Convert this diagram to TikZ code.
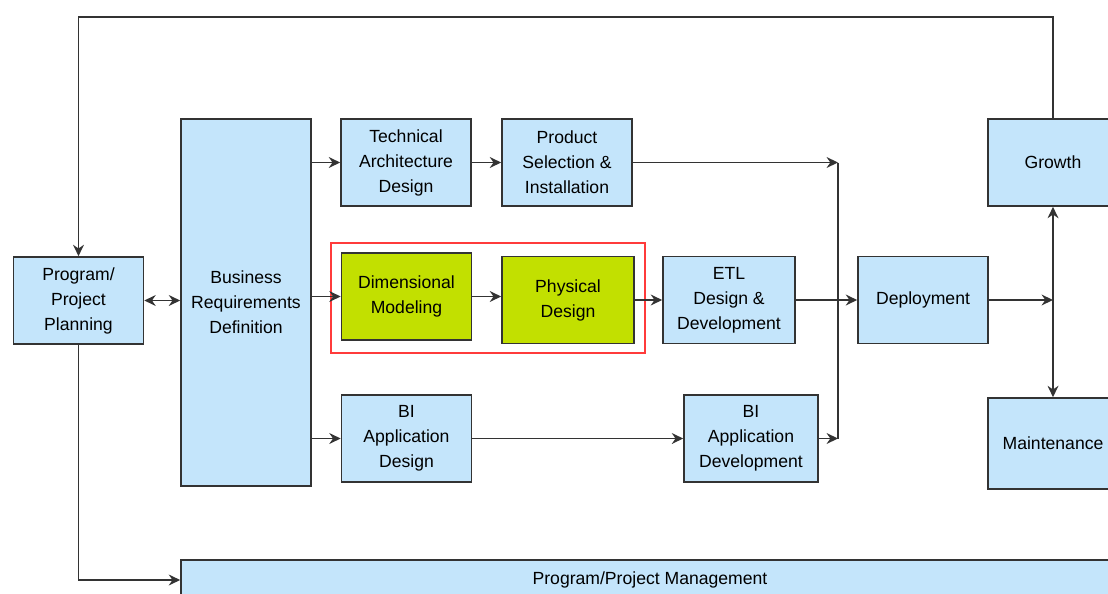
\documentclass[tikz,border=0pt]{standalone}
\usepackage{fontspec}
\setmainfont{Liberation Sans}
\usetikzlibrary{arrows.meta,positioning,fit}
\definecolor{Sky}{HTML}{C4E5FB}
\definecolor{Lime}{HTML}{C2E000}
\definecolor{Frame}{HTML}{FF3B3B}
\definecolor{Ink}{HTML}{333333}

\begin{document}
\begin{tikzpicture}[
    x=0.5pt, y=-0.5pt,
    stage/.style={draw=Ink, line width=0.8pt, fill=Sky, minimum width=65pt,
      minimum height=43.5pt, align=center, inner sep=2pt,
      font=\fontsize{8.8}{12.5}\selectfont},
    focus/.style={stage, fill=Lime},
    arrow/.style={-{Stealth[length=2mm, width=1.9mm]}, line width=0.8pt, draw=Ink},
    twoway/.style={arrow, {Stealth[length=2mm, width=1.9mm]}-{Stealth[length=2mm, width=1.9mm]}},
    wire/.style={line width=0.8pt, draw=Ink}
  ]
  \useasboundingbox (0,0) rectangle (1108,594);
  \node[stage] (plan) at (78.5,300.5) {Program/\\Project\\Planning};
  \node[stage, minimum height=183.5pt] (brd) at (246,302.5) {Business\\Requirements\\Definition};
  \node[stage] (tad) at (406,162.5) {Technical\\Architecture\\Design};
  \node[stage] (psi) at (567,162.5) {Product\\Selection \&\\Installation};
  \node[focus] (dim) at (406.5,296.5) {Dimensional\\Modeling};
  \node[focus, minimum width=66pt] (phys) at (568,300) {Physical\\Design};
  \node[stage, minimum width=66pt] (etl) at (729,300) {ETL\\Design \&\\Development};
  \node[stage] (dep) at (923,300) {Deployment};
  \node[stage] (grow) at (1053,162.5) {Growth};
  \node[stage, minimum height=45.5pt] (maint) at (1053,443.5) {Maintenance};
  \node[stage] (bad) at (406.5,438.5) {BI\\Application\\Design};
  \node[stage, minimum width=67pt] (bdev) at (751,438.5) {BI\\Application\\Development};
  \node[stage, minimum width=469pt, minimum height=20pt] (ppm) at (650,580) {Program/Project Management};
  \node[draw=Frame, line width=1pt, inner xsep=5pt, inner ysep=4.5pt, fit=(dim)(phys)] (dwbox) {};

  \coordinate (loop) at (0,17);
  \coordinate (busN) at (838,162.5);
  \coordinate (busS) at (838,438.5);
  \coordinate (hub) at (grow.south |- dep.east);

  \draw[arrow] (grow.north) |- (loop -| plan.north) -- (plan.north);
  \draw[twoway] (plan.east) -- (plan.east -| brd.west);
  \draw[arrow] (brd.east |- tad) -- (tad);
  \draw[arrow] (tad) -- (psi);
  \draw[arrow] (psi) -- (busN);
  \draw[arrow] (brd.east |- dim) -- (dim);
  \draw[arrow] (dim.east) -- (dim.east -| phys.west);
  \draw[arrow] (phys) -- (etl);
  \draw[arrow] (etl) -- (dep);
  \draw[arrow] (brd.east |- bad) -- (bad);
  \draw[arrow] (bad) -- (bdev);
  \draw[arrow] (bdev) -- (busS);
  \draw[wire] (busN) -- (busS);
  \draw[arrow] (dep) -- (hub);
  \draw[arrow] (hub) -- (grow.south);
  \draw[arrow] (hub) -- (maint.north);
  \draw[arrow] (plan.south) |- (ppm.west);
\end{tikzpicture}
\end{document}
